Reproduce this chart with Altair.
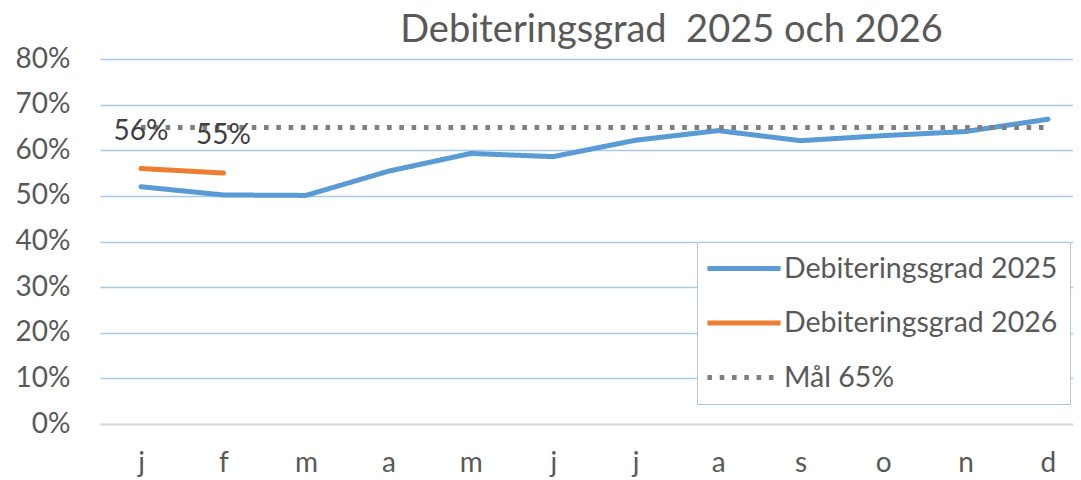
import json
import altair as alt
import pandas as pd

months = ["j", "f", "m", "a", "m", "j", "j", "a", "s", "o", "n", "d"]
series_names = ["Debiteringsgrad 2025", "Debiteringsgrad 2026", "Mål 65%"]
v2025 = [0.52, 0.502, 0.501, 0.554, 0.593, 0.586, 0.622, 0.643, 0.621, 0.632, 0.641, 0.668]
v2026 = [0.56, 0.55]
target = [0.65, 0.65, 0.65, 0.65, 0.65, 0.65, 0.65, 0.65, 0.65, 0.65, 0.65, 0.65]
y_ticks = [0.0, 0.1, 0.2, 0.3, 0.4, 0.5, 0.6, 0.7, 0.8]
title_text = "Debiteringsgrad\u00a0 2025 och 2026"

colors = ["#5B9BD5", "#ED7D31", "#7F7F7F"]
dashes = [[1, 0], [1, 0], [4.6, 7.7]]

rows = []
for s, vals in zip(series_names, [v2025, v2026, target]):
    for i, v in enumerate(vals):
        rows.append({"idx": i, "series": s, "value": v})
df = pd.DataFrame(rows)

label_expr = json.dumps(months) + "[datum.value]"

x_enc = alt.X(
    "idx:O",
    scale=alt.Scale(type="point", padding=0.4006, align=0.621),
    axis=alt.Axis(
        title=None, labelExpr=label_expr, labelAngle=0, ticks=False,
        domainColor="#D9D9D9", domainWidth=2, labelFont="Lato",
        labelFontSize=28, labelColor="#595959", labelPadding=25,
    ),
)
y_enc = alt.Y(
    "value:Q",
    scale=alt.Scale(domain=[0, 0.8], nice=False),
    axis=alt.Axis(
        title=None, format=".0%", values=y_ticks, domain=False, ticks=False,
        gridColor={"condition": {"test": "datum.value === 0", "value": "#D9D9D9"}, "value": "#A6C8E9"},
        gridWidth=1.6, labelFont="Lato", labelFontSize=28, labelColor="#595959",
        labelPadding=30,
    ),
)

legend = alt.Legend(
    title=None, orient="none", legendX=597, legendY=183, direction="vertical",
    padding=12, strokeColor="#A6C8E9", fillColor="white",
    symbolType="M-3.05,0H3.05", symbolSize=576, symbolStrokeWidth=5,
    symbolOffset=20.5, labelOffset=25.5, labelFont="Lato", labelFontSize=28.5,
    labelColor="#595959", rowPadding=25.5, labelLimit=400,
)

color_enc = alt.Color("series:N", scale=alt.Scale(domain=series_names, range=colors), legend=legend)
dash_enc = alt.StrokeDash("series:N", scale=alt.Scale(domain=series_names, range=dashes), legend=legend)

actual = alt.Chart(df[df["series"] != series_names[2]]).mark_line(
    strokeWidth=5, strokeCap="round", strokeJoin="round"
).encode(x=x_enc, y=y_enc, color=color_enc, strokeDash=dash_enc)

goal = alt.Chart(df[df["series"] == series_names[2]]).mark_line(
    strokeWidth=5, strokeCap="butt"
).encode(x=x_enc, y=y_enc, color=color_enc, strokeDash=dash_enc)

labels = alt.Chart(df[df["series"] == series_names[1]]).mark_text(
    dy=-37, fontSize=28, font="Lato", color="#404040"
).encode(
    x=x_enc,
    y=y_enc,
    text=alt.Text("value:Q", format=".0%"),
)

chart = alt.layer(actual, goal, labels).properties(
    width=973,
    height=365,
    background="white",
    autosize=alt.AutoSizeParams(type="none"),
    padding={"left": 92, "top": 51, "right": 0, "bottom": 56},
    title=alt.TitleParams(
        text=title_text, font="Lato", fontSize=38, color="#595959",
        fontWeight="normal", anchor="middle", frame="group", dx=85,
        offset=-35, baseline="alphabetic",
    ),
).configure_view(stroke=None)

chart.save("out.html", embed_options={"renderer": "svg", "actions": False})
